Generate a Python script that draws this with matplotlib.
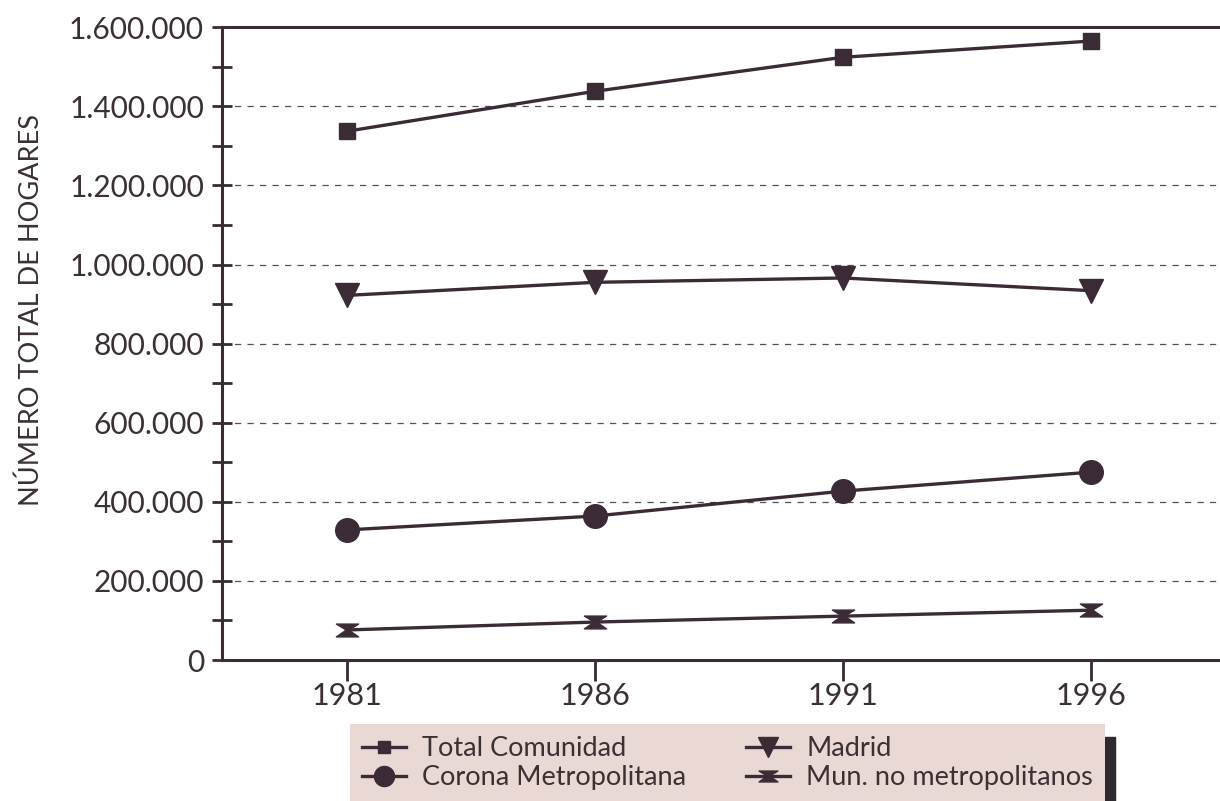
import numpy as np
import matplotlib.pyplot as plt
from matplotlib.path import Path
from matplotlib.patches import Rectangle
from matplotlib.ticker import FuncFormatter, MultipleLocator

# Data
years = [1981, 1986, 1991, 1996]
total_comunidad = [1337000, 1438000, 1524000, 1565000]
madrid = [922000, 955000, 966000, 934000]
corona = [329000, 364000, 427000, 475000]
mun_no_metro = [76000, 96000, 111000, 126000]

labels = ["Total Comunidad", "Corona Metropolitana", "Madrid", "Mun. no metropolitanos"]

ink = "#3a2b36"
text_col = "#3b3034"
plt.rcParams['font.family'] = ['Lato', 'DejaVu Sans']

# Hourglass marker for "Mun. no metropolitanos"
hourglass = Path([(-1.3, 0.75), (1.3, 0.75), (0.15, 0.05), (1.3, -0.75),
                  (-1.3, -0.75), (-0.15, 0.05), (-1.3, 0.75)],
                 [Path.MOVETO, Path.LINETO, Path.LINETO, Path.LINETO,
                  Path.LINETO, Path.LINETO, Path.CLOSEPOLY])

fig = plt.figure(figsize=(12.2, 8.01), dpi=100)
ax = fig.add_axes([0.182, 0.176, 0.82, 0.79])

lw = 2.4
l1, = ax.plot(years, total_comunidad, color=ink, lw=lw, marker='s', ms=11)
l2, = ax.plot(years, corona, color=ink, lw=lw, marker='o', ms=17)
l3, = ax.plot(years, madrid, color=ink, lw=lw, marker='v', ms=17)
l4, = ax.plot(years, mun_no_metro, color=ink, lw=lw, marker=hourglass, ms=16)

ax.set_xlim(1978.48, 1998.66)
ax.set_ylim(0, 1600000)
ax.set_xticks(years)
ax.yaxis.set_major_locator(MultipleLocator(200000))
ax.yaxis.set_minor_locator(MultipleLocator(100000))
ax.yaxis.set_major_formatter(FuncFormatter(lambda v, p: f"{int(v):,}".replace(",", ".")))

for y in range(200000, 1600000, 200000):
    ax.axhline(y, color="#555055", lw=0.9, ls=(0, (5, 5)), zorder=0)

for s in ['top', 'left', 'bottom']:
    ax.spines[s].set_color(ink)
    ax.spines[s].set_linewidth(2.2)
ax.spines['right'].set_visible(False)

ax.tick_params(axis='y', which='both', direction='inout', length=14, width=2,
               color=ink, labelsize=21.5, labelcolor=text_col, pad=6)
ax.tick_params(axis='x', direction='out', length=15, width=2, color=ink,
               labelsize=22, labelcolor=text_col, pad=1)

ax.set_ylabel("NÚMERO TOTAL DE HOGARES", fontsize=19.5, color=text_col)
ax.yaxis.set_label_coords(-0.178, 0.553)

# Legend box with dark shadow on the right
fig.patches.append(Rectangle((1103 / 1220, 0), 12 / 1220, (801 - 737) / 801,
                             transform=fig.transFigure, color="#2e2a2e", zorder=0))
leg = fig.legend([l1, l2, l3, l4], labels, ncol=2,
                 loc='upper left', bbox_to_anchor=(350 / 1220, 1 - 724 / 801, 755 / 1220, 0.0),
                 mode='expand', frameon=True, facecolor="#ead8d4", edgecolor="none",
                 fancybox=False, framealpha=1, fontsize=19.5, handlelength=1.6,
                 labelspacing=0.15, columnspacing=1.0, handletextpad=0.6,
                 borderaxespad=0, borderpad=0.45)
for t in leg.get_texts():
    t.set_color(text_col)
for h in leg.legend_handles:
    h.set_markersize(h.get_markersize() * 0.85)

fig.savefig("out.png", dpi=100)
